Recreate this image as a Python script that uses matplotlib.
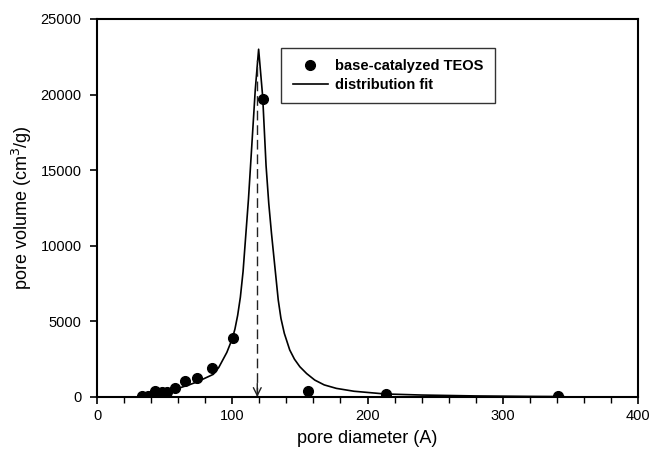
import matplotlib
matplotlib.use("Agg")
import matplotlib.pyplot as plt

plt.rcParams['font.family'] = ['Liberation Sans', 'DejaVu Sans']

# measured pore volumes (base-catalyzed TEOS)
diam_pts = [33.0, 37.9, 42.9, 47.8, 52.0, 57.7, 65.0, 73.7, 84.8, 100.3, 122.5, 155.7, 213.7, 341.0]
vol_pts = [86, 86, 400, 350, 310, 615, 1060, 1236, 1900, 3880, 19700, 400, 180, 70]

# distribution fit
fit_x = [33, 40, 45, 50, 55, 61, 68, 74, 80, 86, 90, 93, 96, 100, 102, 104, 106, 108, 110,
         112, 114.5, 117, 119.5, 122.5, 125, 127, 129, 131.5, 134, 136, 138.5, 142.5, 146,
         150, 155, 161, 168, 177, 190, 213, 240, 280, 320, 345]
fit_y = [0, 60, 130, 200, 300, 600, 800, 1000, 1250, 1500, 1950, 2450, 2950, 3850, 4500,
         5400, 6600, 8300, 10700, 13100, 16700, 20300, 23000, 19860, 15300, 12800, 10830,
         8620, 6420, 5200, 4210, 3110, 2500, 2000, 1550, 1120, 800, 570, 380, 200, 130, 70,
         40, 30]

peak_x = 118.5
peak_top = 22300

fig = plt.figure(figsize=(6.51, 4.53), dpi=100)
ax = fig.add_axes([97 / 651, 1 - 397 / 453, (638 - 97) / 651, (397 - 19) / 453])

ax.plot(diam_pts, vol_pts, 'o', color='black', markersize=7, label='base-catalyzed TEOS')
ax.plot(fit_x, fit_y, '-', color='black', lw=1.2, label='distribution fit')

# dashed marker at the peak with an open arrowhead
ax.vlines(peak_x, 0, peak_top, colors='#222222', lw=1.0, linestyles=(0, (7, 3.5)))
ax.annotate('', xy=(peak_x, 0), xytext=(peak_x, 900),
            arrowprops=dict(arrowstyle='->', lw=1.0, color='#222222', mutation_scale=14,
                            shrinkA=0, shrinkB=0))

ax.set_xlim(0, 400)
ax.set_ylim(0, 25000)
ax.set_xticks([0, 100, 200, 300, 400])
ax.set_xticks(range(0, 401, 20), minor=True)
ax.set_yticks(range(0, 25001, 5000))

for s in ax.spines.values():
    s.set_linewidth(1.5)

ax.tick_params(axis='both', which='major', direction='out', length=5, width=1.2,
               labelsize=10.5, colors='black')
ax.tick_params(axis='x', which='minor', direction='out', length=4, width=1.0)
ax.tick_params(axis='x', pad=4)
ax.tick_params(axis='y', pad=6)

ax.set_xlabel('pore diameter (A)', fontsize=13, labelpad=5)
ax.set_ylabel('pore volume (cm$^3$/g)', fontsize=13, labelpad=5)

leg = ax.legend(loc='upper left', bbox_to_anchor=(281 / 651, 1 - 47.7 / 453),
                bbox_transform=fig.transFigure, borderaxespad=0, numpoints=1,
                fancybox=False, framealpha=1, edgecolor='#333333', borderpad=0.8,
                handlelength=2.4, handletextpad=0.5, labelspacing=0.3,
                prop={'weight': 'bold', 'size': 10.5})
leg.get_frame().set_linewidth(1.0)

fig.savefig('out.png', dpi=100)
